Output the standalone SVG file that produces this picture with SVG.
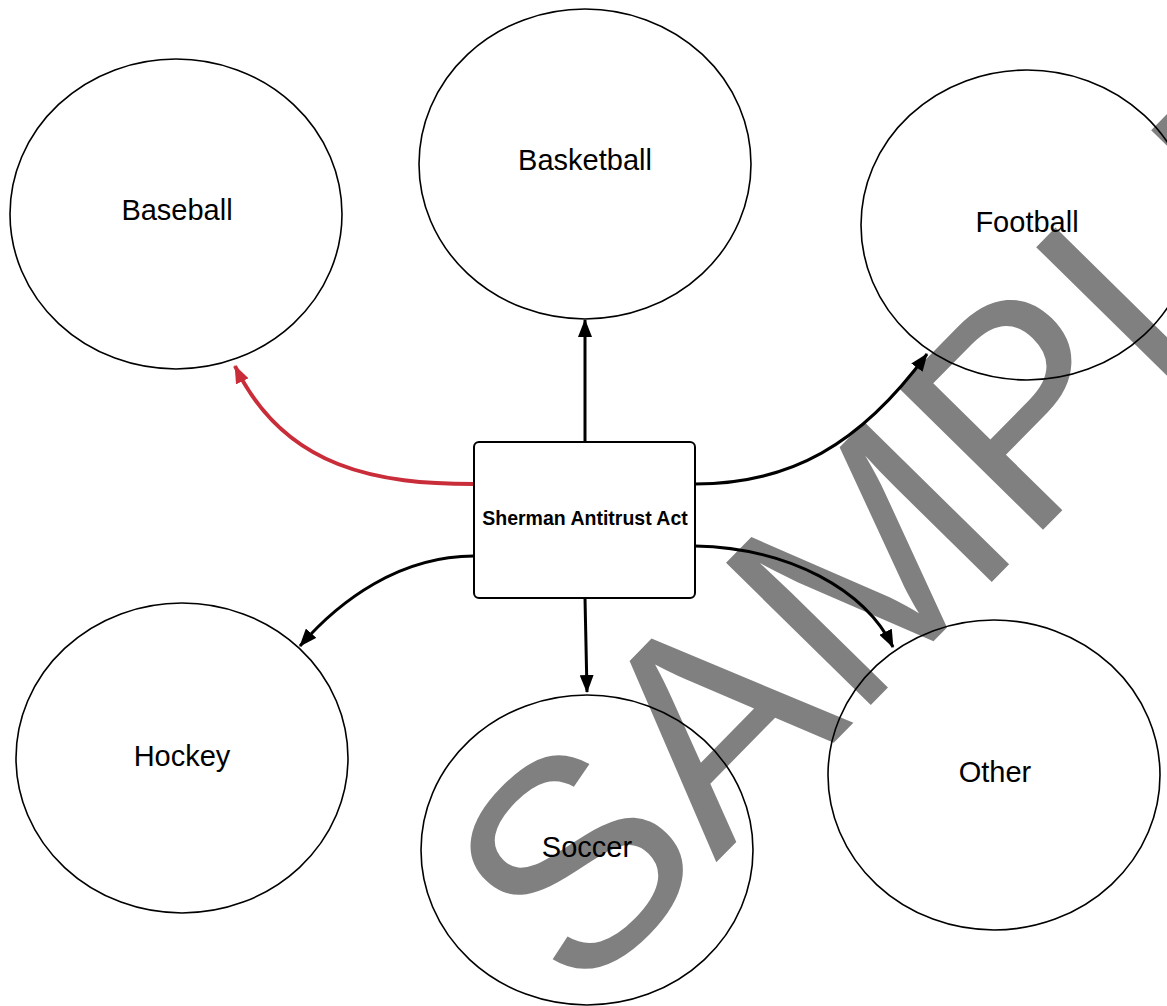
<svg xmlns="http://www.w3.org/2000/svg" width="1167" height="1006" viewBox="0 0 1167 1006">
  <style>
    .node ellipse { fill: none; stroke: #000; stroke-width: 1.6; }
    .lbl { font-family: "Liberation Sans", Arial, sans-serif; font-size: 29px; fill: #000; text-anchor: middle; }
    .box { fill: #fff; stroke: #000; stroke-width: 2; }
    .boxlbl { font-family: "Liberation Sans", Arial, sans-serif; font-size: 19.5px; font-weight: bold; fill: #000; text-anchor: middle; }
    .conn { fill: none; stroke: #000; stroke-width: 3; }
    .conn.red { stroke: #c92d39; stroke-width: 4; }
    .wm { font-family: "Liberation Sans", Arial, sans-serif; font-size: 295px; fill: #808080; }
  </style>
  <defs>
    <marker id="ah" markerUnits="userSpaceOnUse" markerWidth="18" markerHeight="14" refX="17" refY="7" orient="auto">
      <path d="M0,0 L18,7 L0,14 Z" fill="#000"/>
    </marker>
    <marker id="ahr" markerUnits="userSpaceOnUse" markerWidth="18" markerHeight="14" refX="17" refY="7" orient="auto">
      <path d="M0,0 L18,7 L0,14 Z" fill="#c92d39"/>
    </marker>
  </defs>
  <rect width="1167" height="1006" fill="#fff"/>

  <text class="wm" transform="translate(578,1003) rotate(-45.5)">SAMPLE</text>

  <g id="baseball" class="node">
    <ellipse cx="176" cy="214" rx="166" ry="155"/>
    <text class="lbl" x="177" y="220">Baseball</text>
  </g>
  <g id="basketball" class="node">
    <ellipse cx="585" cy="164" rx="166" ry="155"/>
    <text class="lbl" x="585" y="170">Basketball</text>
  </g>
  <g id="football" class="node">
    <ellipse cx="1027" cy="225" rx="166" ry="155"/>
    <text class="lbl" x="1027" y="232">Football</text>
  </g>
  <g id="hockey" class="node">
    <ellipse cx="182" cy="758" rx="166" ry="155"/>
    <text class="lbl" x="182" y="766">Hockey</text>
  </g>
  <g id="soccer" class="node">
    <ellipse cx="587" cy="850" rx="166" ry="155"/>
    <text class="lbl" x="587" y="857">Soccer</text>
  </g>
  <g id="other" class="node">
    <ellipse cx="994" cy="775" rx="166" ry="155"/>
    <text class="lbl" x="995" y="782">Other</text>
  </g>

  <g id="connectors">
    <path class="conn red" d="M474,484 C380,484 285,470 235,366" marker-end="url(#ahr)"/>
    <path class="conn" d="M585,442 L585,320" marker-end="url(#ah)"/>
    <path class="conn" d="M695,484 C790,484 860,445 927,354" marker-end="url(#ah)"/>
    <path class="conn" d="M474,556 C400,556 340,600 300,646" marker-end="url(#ah)"/>
    <path class="conn" d="M585,598 L587,692" marker-end="url(#ah)"/>
    <path class="conn" d="M695,546 C790,548 865,590 893,647" marker-end="url(#ah)"/>
  </g>

  <g id="sherman">
    <rect class="box" x="474" y="442" width="221" height="156" rx="5"/>
    <text class="boxlbl" x="585" y="525">Sherman Antitrust Act</text>
  </g>
</svg>
